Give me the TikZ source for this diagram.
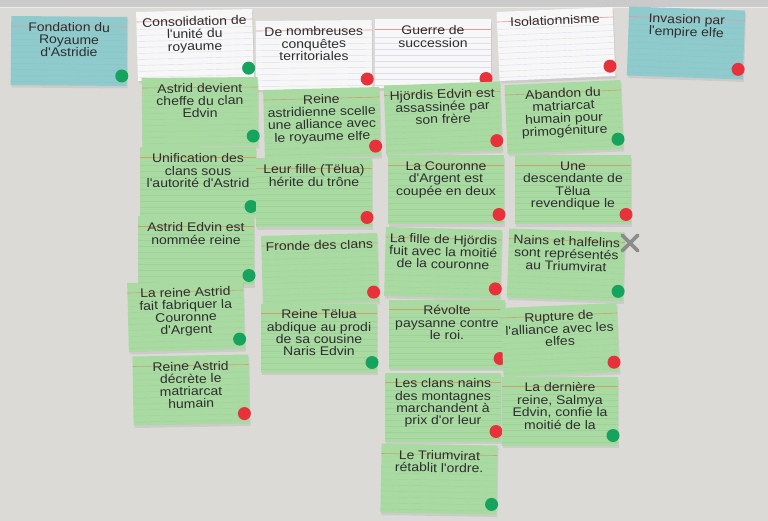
\documentclass[tikz,border=0pt]{standalone}
\usepackage{fontspec}
\setmainfont{Liberation Sans}[Ligatures=TeXOff]
\newfontfamily\cardfont{Liberation Sans}[Ligatures=TeXOff,FakeStretch=1.12]
\usetikzlibrary{shadows,shapes.misc}
\definecolor{board}{HTML}{DCDAD7}
\definecolor{boardtop}{HTML}{CACACA}
\definecolor{cardblue}{HTML}{8FCACC}
\definecolor{cardwhite}{HTML}{F7F7F7}
\definecolor{cardgreen}{HTML}{A8DAA2}
\definecolor{toppink}{HTML}{E59A9E}
\definecolor{toptan}{HTML}{C9A46A}
\definecolor{tackgreen}{HTML}{16A35E}
\definecolor{tackred}{HTML}{E8323B}
\definecolor{ink}{HTML}{2E2E2E}
\definecolor{markgray}{HTML}{8C8C8C}

\begin{document}
\begin{tikzpicture}[x=1pt,y=1pt,
  card/.style={rectangle,minimum width=116pt,minimum height=69pt,inner sep=0pt,
    drop shadow={opacity=0.16,shadow xshift=1pt,shadow yshift=-2.5pt}},
  bluecard/.style={card,fill=cardblue},
  whitecard/.style={card,fill=cardwhite},
  greencard/.style={card,fill=cardgreen},
  bluecardrule/.style={draw=cardblue!75!black,opacity=0.15,line width=0.4pt},
  whitecardrule/.style={draw=blue!40!gray,opacity=0.15,line width=0.4pt},
  greencardrule/.style={draw=cardgreen!75!black,opacity=0.15,line width=0.4pt},
  bluecardtop/.style={draw=toppink,line width=0.6pt},
  whitecardtop/.style={draw=toppink,line width=0.6pt},
  greencardtop/.style={draw=toptan,line width=0.6pt},
  cardtext/.style={font=\cardfont\fontsize{12.5}{12.4}\selectfont,text=ink,align=center,inner sep=0pt,anchor=north},
  tack/.style={circle,minimum size=13pt,inner sep=0pt},
]
\useasboundingbox (0,0) rectangle (768,-521);
\fill[board] (0,0) rectangle (768,-521);
\fill[boardtop] (0,0) rectangle (768,-7);
\draw[white!85!gray,line width=1pt] (0,-7.5) -- (768,-7.5);

% one card per entry: name/x/y/angle/style/text/tack
\foreach \nm/\cx/\cy/\ang/\sty/\txt/\dt in {
  h1/69/51/-0.5/bluecard/{Fondation du\\Royaume\\d'Astridie}/tackgreen,
  h2/195/45/1.5/whitecard/{Consolidation de\\l'unité du\\royaume}/tackgreen,
  h3/314/55/0.5/whitecard/{De nombreuses\\conquêtes\\territoriales}/tackred,
  h4/433/54/0/whitecard/{Guerre de\\succession}/tackred,
  h5/556/44/2.5/whitecard/{Isolationnisme}/tackred,
  h6/686/43/-2/bluecard/{Invasion par\\l'empire elfe}/tackred,
  a1/200/112/0.5/greencard/{Astrid devient\\cheffe du clan\\Edvin}/tackgreen,
  a2/198/182/0/greencard/{Unification des\\clans sous\\l'autorité d'Astrid}/tackgreen,
  a3/196/251/0/greencard/{Astrid Edvin est\\nommée reine}/tackgreen,
  a4/186/316/1.5/greencard/{La reine Astrid\\fait fabriquer la\\Couronne\\d'Argent}/tackgreen,
  a5/191/390/1/greencard/{Reine Astrid\\décrète le\\matriarcat\\humain}/tackred,
  b1/322/123/1.5/greencard/{Reine\\astridienne scelle\\une alliance avec\\le royaume elfe}/tackred,
  b2/314/193/0/greencard/{Leur fille (Tëlua)\\hérite du trône}/tackred,
  b3/320/269/1.5/greencard/{Fronde des clans}/tackred,
  b4/319/338/0/greencard/{Reine Tëlua\\abdique au prodi\\de sa cousine\\Naris Edvin}/tackgreen,
  c1/443/118/2/greencard/{Hjördis Edvin est\\assassinée par\\son frère}/tackred,
  c2/446/190/0/greencard/{La Couronne\\d'Argent est\\coupée en deux}/tackred,
  c3/443/263/-1.5/greencard/{La fille de Hjördis\\fuit avec la moitié\\de la couronne}/tackred,
  c4/447/334/0/greencard/{Révolte\\paysanne contre\\le roi.}/tackred,
  c5/443/407/0/greencard/{Les clans nains\\des montagnes\\marchandent à\\prix d'or leur}/tackred,
  c6/439/479/-1/greencard/{Le Triumvirat\\rétablit l'ordre.}/tackgreen,
  d1/564/117/2.5/greencard/{Abandon du\\matriarcat\\humain pour\\primogéniture}/tackgreen,
  d2/573/190/0/greencard/{Une\\descendante de\\Tëlua\\revendique le}/tackred,
  d3/566/265/-2/greencard/{Nains et halfelins\\sont représentés\\au Triumvirat}/tackgreen,
  d4/560/340/2.5/greencard/{Rupture de\\l'alliance avec les\\elfes}/tackred,
  d5/560/411/0/greencard/{La dernière\\reine, Salmya\\Edvin, confie la\\moitié de la}/tackgreen}
{
  \begin{scope}[shift={(\cx,-\cy)},rotate=\ang]
    \node[\sty,transform shape] (\nm) at (0,0) {};
    \foreach \r in {-31,-25,...,19}
      \draw[\sty rule] (-58,\r) -- (58,\r);
    \draw[\sty top] (-58,24.5) -- (58,24.5);
    \node[cardtext,transform shape] (\nm t) at (0,28.5) {\txt};
    \node[tack,fill=\dt] (\nm d) at (53,-24.5) {};
  \end{scope}
}

\node[cross out,draw=markgray,line width=3.6pt,minimum size=12pt,line cap=round] (del) at (630,-243) {};
\end{tikzpicture}
\end{document}
